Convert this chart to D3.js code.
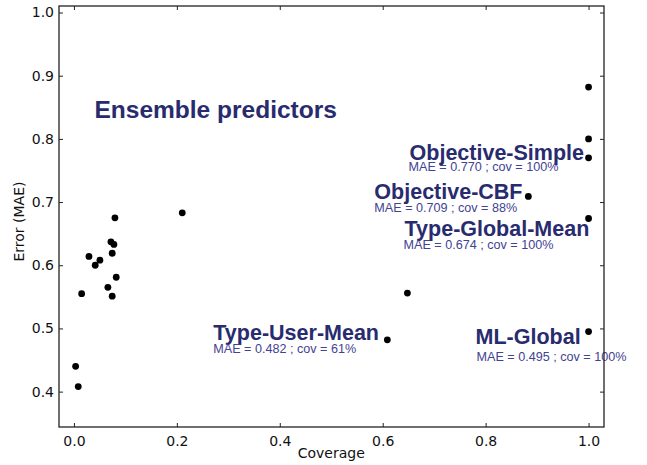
<!DOCTYPE html>
<html>
<head>
<meta charset="utf-8">
<script src="https://cdn.jsdelivr.net/npm/d3@7"></script>
<style>
  html, body { margin: 0; padding: 0; background: #fff; }
  svg { display: block; }
</style>
</head>
<body>
<svg id="chart" width="647" height="465"></svg>
<script>
// ---- data ----
const coverage = [0.0033, 0.0084, 0.015, 0.0292, 0.0414, 0.0505, 0.066, 0.0719, 0.0744, 0.0744, 0.0777, 0.0797, 0.0822,
                  0.2105, 0.609, 0.648, 0.883, 1.0, 1.0, 1.0, 1.0, 1.0];
const errorMAE = [0.440, 0.408, 0.555, 0.614, 0.600, 0.608, 0.565, 0.637, 0.619, 0.551, 0.633, 0.675, 0.581,
                  0.683, 0.482, 0.556, 0.709, 0.882, 0.800, 0.770, 0.674, 0.495];
const xTicks = [0.0, 0.2, 0.4, 0.6, 0.8, 1.0];
const yTicks = [0.4, 0.5, 0.6, 0.7, 0.8, 0.9, 1.0];
const labelNames = ["Objective-Simple", "Objective-CBF", "Type-Global-Mean", "Type-User-Mean", "ML-Global"];
const labelMAE = ["0.770", "0.709", "0.674", "0.482", "0.495"];
const labelCov = ["100%", "88%", "100%", "61%", "100%"];
const labelCoverage = [1.0, 0.883, 1.0, 0.609, 1.0];
const labelError = [0.770, 0.709, 0.674, 0.482, 0.495];
const title = "Ensemble predictors";

// ---- layout ----
const L = 59, T = 6, R = 604, B = 427;
const svg = d3.select("#chart");
const x = d3.scaleLinear().domain([-0.029, 1.03]).range([L, R]);
const y = d3.scaleLinear().domain([0.344, 1.0103]).range([B, T]);

const axisFont = "'DejaVu Sans', sans-serif";
const annFont = "'Liberation Sans', Arial, Helvetica, sans-serif";
const navy = "#282b6e";
const navy2 = "#3f4392";

// annotation offsets relative to their point (pixels): [dx label, dy label baseline, dx sub, dy sub baseline]
const annOffsets = [
  [-179, 2, -180, 13],
  [-154, 3, -154, 16],
  [-184, 18, -185, 31],
  [-174, 0, -174, 13],
  [-113, 12, -112, 29]
];

// title
svg.append("text")
  .attr("x", x(0.04)).attr("y", y(0.7) - 84)
  .attr("font-family", annFont).attr("font-weight", "bold")
  .attr("font-size", 24.5).attr("fill", navy)
  .text(title);

// annotations
labelNames.forEach((name, i) => {
  const px = x(labelCoverage[i]), py = y(labelError[i]);
  const o = annOffsets[i];
  svg.append("text")
    .attr("x", px + o[0]).attr("y", py + o[1])
    .attr("font-family", annFont).attr("font-weight", "bold")
    .attr("font-size", 21.5).attr("fill", navy)
    .text(name);
  svg.append("text")
    .attr("x", px + o[2]).attr("y", py + o[3])
    .attr("font-family", annFont)
    .attr("font-size", 12.6).attr("fill", navy2)
    .text(`MAE = ${labelMAE[i]} ; cov = ${labelCov[i]}`);
});

// points
svg.append("g").selectAll("circle")
  .data(coverage.map((c, i) => [c, errorMAE[i]]))
  .join("circle")
  .attr("cx", d => x(d[0])).attr("cy", d => y(d[1]))
  .attr("r", 3.4).attr("fill", "#000");

// axes (ticks inward on all sides)
const tickLen = 4;
const gB = svg.append("g").attr("transform", `translate(0,${B})`)
  .call(d3.axisBottom(x).tickValues(xTicks).tickSize(-tickLen).tickPadding(9).tickFormat(d3.format(".1f")));
const gT = svg.append("g").attr("transform", `translate(0,${T})`)
  .call(d3.axisTop(x).tickValues(xTicks).tickSize(-tickLen).tickFormat(""));
const gL = svg.append("g").attr("transform", `translate(${L},0)`)
  .call(d3.axisLeft(y).tickValues(yTicks).tickSize(-tickLen).tickPadding(5).tickFormat(d3.format(".1f")));
const gR = svg.append("g").attr("transform", `translate(${R},0)`)
  .call(d3.axisRight(y).tickValues(yTicks).tickSize(-tickLen).tickFormat(""));
[gB, gT, gL, gR].forEach(g => {
  g.select(".domain").remove();
  g.selectAll(".tick line").attr("stroke", "#222").attr("stroke-width", 1);
  g.selectAll(".tick text").attr("font-family", axisFont).attr("font-size", 14).attr("fill", "#111");
});

// frame
svg.append("rect")
  .attr("x", L).attr("y", T).attr("width", R - L).attr("height", B - T)
  .attr("fill", "none").attr("stroke", "#222").attr("stroke-width", 1.3);

// axis labels
svg.append("text")
  .attr("x", (x(0) + x(1)) / 2 + 0).attr("y", 458)
  .attr("text-anchor", "middle")
  .attr("font-family", axisFont).attr("font-size", 14).attr("fill", "#111")
  .text("Coverage");
svg.append("text")
  .attr("transform", `translate(24,${(T + B) / 2 + 5}) rotate(-90)`)
  .attr("text-anchor", "middle")
  .attr("font-family", axisFont).attr("font-size", 14).attr("fill", "#111")
  .text("Error (MAE)");
</script>
</body>
</html>
